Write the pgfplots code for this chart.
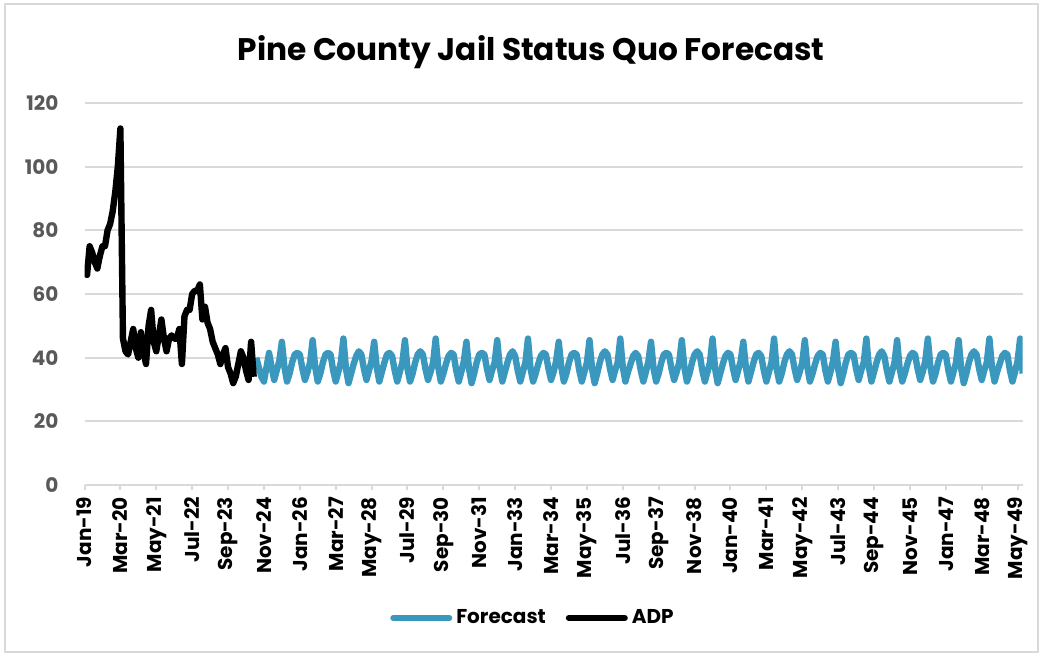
\documentclass[border=0pt]{standalone}
\usepackage{pgfplots}
\pgfplotsset{compat=1.18}
\usepackage{fontspec}
\setmainfont{Poppins}
\definecolor{fc}{RGB}{58,151,190}
\definecolor{gridc}{RGB}{217,217,217}
\definecolor{lab}{RGB}{89,89,89}
\begin{document}
\begin{tikzpicture}
\begin{axis}[
  scale only axis, width=469.1pt, height=191pt,
  xmin=0, xmax=366, ymin=0, ymax=120,
  axis lines*=left, axis line style={-},
  x axis line style={gridc, line width=1pt},
  y axis line style={draw=none},
  ytick={0,20,...,120},
  ymajorgrids, grid style={gridc, line width=1pt},
  xtick={0,14,...,364},
  xticklabels={Jan-19,Mar-20,May-21,Jul-22,Sep-23,Nov-24,Jan-26,Mar-27,May-28,Jul-29,Sep-30,Nov-31,Jan-33,Mar-34,May-35,Jul-36,Sep-37,Nov-38,Jan-40,Mar-41,May-42,Jul-43,Sep-44,Nov-45,Jan-47,Mar-48,May-49},
  tick align=outside, major tick length=2.5pt,
  xtick style={gridc, line width=1pt},
  ytick style={draw=none},
  /pgf/number format/assume math mode=true,
  xticklabel style={rotate=90, anchor=east, font=\bfseries\fontsize{10}{12}\selectfont, black},
  yticklabel style={font=\bfseries\fontsize{10}{12}\selectfont, text=lab, xshift=-7pt},
  title={Pine County Jail Status Quo Forecast},
  title style={font=\bfseries\fontsize{15.6}{18}\selectfont, at={(0.476,1)}, anchor=base, yshift=15pt},
  legend style={at={(0.479,-0.348)}, anchor=center, draw=none, fill=none, legend columns=2,
    font=\bfseries\fontsize{10}{12}\selectfont, /tikz/every even column/.append style={column sep=8pt}},
  legend image code/.code={\draw[#1, line width=3pt, line cap=round] (0pt,0pt) -- (28pt,0pt);},
]
\addplot[fc, line width=3.2pt, line join=round] table[row sep=\\] {
x y\\
67 40\\68 37\\69 34\\70 32.5\\71 37\\
72 41.5\\73 37\\74 33\\75 36\\76 39\\77 45\\78 37\\79 32.5\\80 35\\81 38.5\\82 41\\83 41.5\\
84 41\\85 36.5\\86 33\\87 35.5\\88 38.5\\89 45.5\\90 37\\91 32.5\\92 35\\93 38.5\\94 41\\95 41.5\\
96 41\\97 36\\98 32.5\\99 35.5\\100 38.5\\101 46\\102 36.5\\103 32\\104 35\\105 38\\106 40.5\\107 42\\
108 41\\109 36.5\\110 33\\111 36\\112 39\\113 45\\114 37\\115 32.5\\116 35.5\\117 38.5\\118 41\\119 41.5\\
120 40.5\\121 36\\122 32.5\\123 35.5\\124 38.5\\125 45.5\\126 36.5\\127 32.5\\128 35\\129 38.5\\130 41\\131 42\\
132 41\\133 36.5\\134 33\\135 35.5\\136 38.5\\137 46\\138 37\\139 32.5\\140 35\\141 38\\142 40.5\\143 41.5\\
144 41\\145 36\\146 32.5\\147 35.5\\148 39\\149 45\\150 36.5\\151 32\\152 35\\153 38.5\\154 41\\155 41.5\\
156 41\\157 36.5\\158 33\\159 36\\160 38.5\\161 45.5\\162 37\\163 32.5\\164 35.5\\165 38.5\\166 41\\167 42\\
168 40.5\\169 36\\170 32.5\\171 35.5\\172 38.5\\173 46\\174 36.5\\175 32.5\\176 35\\177 38\\178 40.5\\179 41.5\\
180 41\\181 36.5\\182 33\\183 35.5\\184 39\\185 45\\186 37\\187 32.5\\188 35\\189 38.5\\190 41\\191 41.5\\
192 41\\193 36\\194 32.5\\195 35.5\\196 38.5\\197 45.5\\198 36.5\\199 32\\200 35\\201 38.5\\202 41\\203 42\\
204 41\\205 36.5\\206 33\\207 36\\208 38.5\\209 46\\210 37\\211 32.5\\212 35.5\\213 38\\214 40.5\\215 41.5\\
216 40.5\\217 36\\218 32.5\\219 35.5\\220 39\\221 45\\222 36.5\\223 32.5\\224 35\\225 38.5\\226 41\\227 41.5\\
228 41\\229 36.5\\230 33\\231 35.5\\232 38.5\\233 45.5\\234 37\\235 32.5\\236 35\\237 38.5\\238 41\\239 42\\
240 41\\241 36\\242 32.5\\243 35.5\\244 38.5\\245 46\\246 36.5\\247 32\\248 35\\249 38\\250 40.5\\251 41.5\\
252 41\\253 36.5\\254 33\\255 36\\256 39\\257 45\\258 37\\259 32.5\\260 35.5\\261 38.5\\262 41\\263 41.5\\
264 40.5\\265 36\\266 32.5\\267 35.5\\268 38.5\\269 46\\270 36.5\\271 32.5\\272 35\\273 38.5\\274 41\\275 42\\
276 41\\277 36.5\\278 33\\279 35.5\\280 38.5\\281 45.5\\282 37\\283 32.5\\284 35\\285 38\\286 40.5\\287 41.5\\
288 41\\289 36\\290 32.5\\291 35.5\\292 39\\293 45\\294 36.5\\295 32\\296 35\\297 38.5\\298 41\\299 41.5\\
300 41\\301 36.5\\302 33\\303 36\\304 38.5\\305 46\\306 37\\307 32.5\\308 35.5\\309 38.5\\310 41\\311 42\\
312 40.5\\313 36\\314 32.5\\315 35.5\\316 38.5\\317 45.5\\318 36.5\\319 32.5\\320 35\\321 38\\322 40.5\\323 41.5\\
324 41\\325 36.5\\326 33\\327 35.5\\328 39\\329 46\\330 37\\331 32.5\\332 35\\333 38.5\\334 41\\335 41.5\\
336 41\\337 36\\338 32.5\\339 35.5\\340 38.5\\341 45.5\\342 36.5\\343 32\\344 35\\345 38.5\\346 41\\347 42\\
348 41\\349 36.5\\350 33\\351 36\\352 38.5\\353 46\\354 37\\355 32.5\\356 35.5\\357 38\\358 40.5\\359 41.5\\
360 41\\361 36\\362 32.5\\363 35.5\\364 39\\365 46\\366 35\\
};
\addlegendentry{Forecast}
\addplot[black, line width=3.2pt, line join=round] table[row sep=\\] {
x y\\
0 67\\1 66\\2 75\\3 73\\4 70\\5 68\\6 72\\7 75\\8 75\\9 80\\10 82\\11 86\\
12 92\\13 100\\14 112\\15 46\\16 42\\17 41\\18 45\\19 49\\20 43\\21 40\\22 48\\23 42\\
24 38\\25 50\\26 55\\27 45\\28 42\\29 47\\30 52\\31 46\\32 42\\33 46\\34 47\\35 46\\
36 46\\37 49\\38 38\\39 53\\40 55\\41 55\\42 60\\43 61\\44 61\\45 63\\46 52\\47 56\\
48 51\\49 49\\50 45\\51 43\\52 41\\53 38\\54 41\\55 43\\56 37\\57 35\\58 32\\59 34\\
60 38\\61 42\\62 40\\63 36\\64 33\\65 45\\66 34\\
};
\addlegendentry{ADP}
\end{axis}
\pgfresetboundingbox
\path[use as bounding box] (-42.25pt,-85.5pt) rectangle (478.75pt,242.5pt);
\draw[gridc, line width=1pt] (-39.75pt,-83.5pt) rectangle (476.75pt,240.5pt);
\end{tikzpicture}
\end{document}
